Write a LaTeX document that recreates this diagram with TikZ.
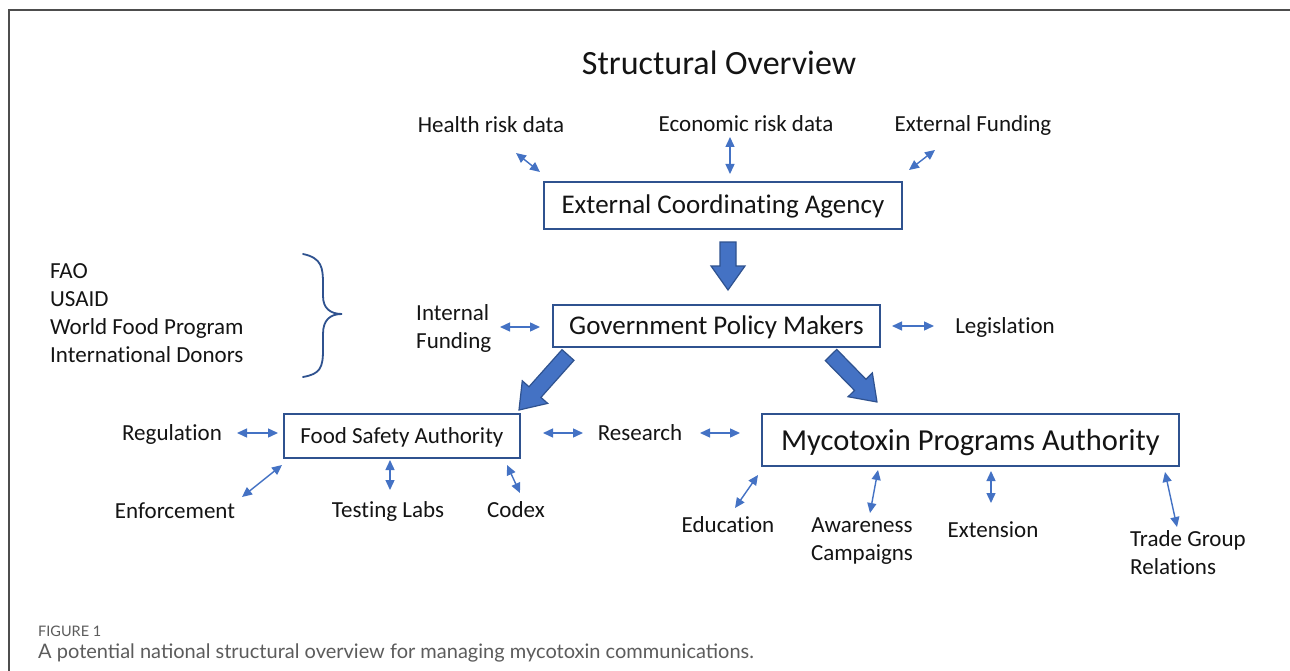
\documentclass[tikz,border=0pt]{standalone}
\usepackage{fontspec}
\setmainfont{Carlito}[Ligatures=NoCommon]
\newfontfamily\capfont{Lato}
\usetikzlibrary{arrows.meta,calc}

\definecolor{fillblue}{HTML}{4472C4}
\definecolor{lineblue}{HTML}{2F528F}
\definecolor{ink}{HTML}{141414}
\definecolor{framegray}{HTML}{4D4D4D}
\definecolor{capgray}{HTML}{5C5C5C}

% block arrow from #1 to #2 (shaft half width, head half width, head length)
\newcommand\bigconnector[2]{%
  \path ($(#2)!24pt!(#1)$) coordinate (hd);
  \filldraw[bigarrow]
    ($(#1)!8pt!90:(#2)$) -- ($(hd)!8pt!90:(#2)$) -- ($(hd)!17pt!90:(#2)$)
    -- (#2)
    -- ($(hd)!17pt!-90:(#2)$) -- ($(hd)!8pt!-90:(#2)$) -- ($(#1)!8pt!-90:(#2)$)
    -- cycle;}

\tikzset{
  lbl/.style={inner sep=0pt, text=ink, font=\fontsize{23}{28}\selectfont},
  box/.style={draw=lineblue, line width=1.8pt, inner xsep=0pt, inner ysep=0pt,
              anchor=north west, text=ink},
  dbl/.style={{Triangle[length=10pt,width=9pt]}-{Triangle[length=10pt,width=9pt]},
              draw=fillblue, fill=fillblue, line width=1.4pt},
  bigarrow/.style={fill=fillblue, draw=lineblue, line width=1.2pt, line join=miter},
  brace/.style={draw=lineblue, line width=1.8pt, line cap=round},
}

\begin{document}
\begin{tikzpicture}[x=1pt, y=-1pt]
  \useasboundingbox (0,0) rectangle (1290,671);
  \fill[white] (0,0) rectangle (1290,671);

  % frame
  \draw[framegray, line width=2pt] (9,671) -- (9,10) -- (1291,10);

  % title
  \node[lbl, anchor=base, font=\fontsize{34}{40}\selectfont] (title) at (719,75) {Structural Overview};

  % top inputs
  \node[lbl, anchor=base] (health) at (491,133) {Health risk data};
  \node[lbl, anchor=base] (econ)   at (746,132) {Economic risk data};
  \node[lbl, anchor=base] (extf)   at (973,132) {External Funding};

  % boxes
  \node[box, minimum width=358pt, text height=32pt, text depth=15pt,
        font=\fontsize{27}{32}\selectfont] (eca) at (543,181) {External Coordinating Agency};
  \node[box, minimum width=327pt, text height=30pt, text depth=12pt,
        font=\fontsize{27}{32}\selectfont] (gpm) at (552,304) {Government Policy Makers};
  \node[box, minimum width=236pt, text height=30pt, text depth=14pt,
        font=\fontsize{23}{28}\selectfont] (fsa) at (283,413) {Food Safety Authority};
  \node[box, minimum width=417pt, text height=37pt, text depth=15pt,
        font=\fontsize{30.5}{36}\selectfont] (mpa) at (761,413) {Mycotoxin Programs Authority};

  % side labels (multi-line nodes are placed by their last baseline)
  \node[lbl, anchor=base west, align=left] (intf) at (416,348) {Internal\\Funding};
  \node[lbl, anchor=base] (legis) at (1005,333) {Legislation};
  \node[lbl, anchor=base] (reg)   at (172,440) {Regulation};
  \node[lbl, anchor=base] (enf)   at (175,518) {Enforcement};
  \node[lbl, anchor=base] (labs)  at (388,517) {Testing Labs};
  \node[lbl, anchor=base] (codex) at (516,517) {Codex};
  \node[lbl, anchor=base] (res)   at (640,440) {Research};
  \node[lbl, anchor=base] (edu)   at (728,532) {Education};
  \node[lbl, anchor=base, align=center] (aware) at (862,560) {Awareness\\Campaigns};
  \node[lbl, anchor=base] (ext)   at (993,537) {Extension};
  \node[lbl, anchor=base west, align=left] (trade) at (1130,574) {Trade Group\\Relations};

  % donors and brace
  \node[lbl, anchor=base west, align=left] (donors) at (50,362)
    {FAO\\USAID\\World Food Program\\International Donors};
  \draw[brace] (303,254) .. controls (322,258) and (323,268) .. (323,284)
    -- (323,296) .. controls (323,308) and (330,314) .. (342,314) coordinate (bracetip)
    .. controls (330,314) and (323,320) .. (323,334)
    -- (323,350) .. controls (323,368) and (320,374) .. (303,377);

  % block arrows
  \coordinate (d1) at (728,242);  \coordinate (d2) at (728,290);
  \coordinate (l1) at (568,355);  \coordinate (l2) at (519,410);
  \coordinate (r1) at (831,355);  \coordinate (r2) at (877,402);
  \bigconnector{d1}{d2}
  \bigconnector{l1}{l2}
  \bigconnector{r1}{r2}

  % two-way links
  \coordinate (hA) at (516,153);  \coordinate (hB) at (540,172);
  \coordinate (eA) at (730,137);  \coordinate (eB) at (730,174);
  \coordinate (fA) at (909,170);  \coordinate (fB) at (935,150);
  \coordinate (iA) at (500,327);  \coordinate (iB) at (540,327);
  \coordinate (gA) at (892,326);  \coordinate (gB) at (934,326);
  \coordinate (rA) at (237,433);  \coordinate (rB) at (278,433);
  \coordinate (nA) at (242,497);  \coordinate (nB) at (282,465);
  \coordinate (tA) at (390,460);  \coordinate (tB) at (390,490);
  \coordinate (cA) at (507,465);  \coordinate (cB) at (520,493);
  \coordinate (sA) at (543,433);  \coordinate (sB) at (583,433);
  \coordinate (sC) at (700,433);  \coordinate (sD) at (740,433);
  \coordinate (uA) at (735,508);  \coordinate (uB) at (758,475);
  \coordinate (wA) at (878,470);  \coordinate (wB) at (870,513);
  \coordinate (xA) at (991,471);  \coordinate (xB) at (991,503);
  \coordinate (gtA) at (1165,472); \coordinate (gtB) at (1177,527);
  \foreach \p/\q in {hA/hB, eA/eB, fA/fB, iA/iB, gA/gB, rA/rB, nA/nB, tA/tB,
                     cA/cB, sA/sB, sC/sD, uA/uB, wA/wB, xA/xB, gtA/gtB}
    \draw[dbl] (\p) -- (\q);

  % caption
  \node[anchor=base west, inner sep=0pt, text=capgray,
        font=\capfont\fontsize{14.5}{17}\selectfont] (fig) at (38,636) {FIGURE 1};
  \node[anchor=base west, inner sep=0pt, text=capgray,
        font=\capfont\fontsize{20}{24}\selectfont] (cap) at (38,658)
    {A potential national structural overview for managing mycotoxin communications.};
\end{tikzpicture}
\end{document}
